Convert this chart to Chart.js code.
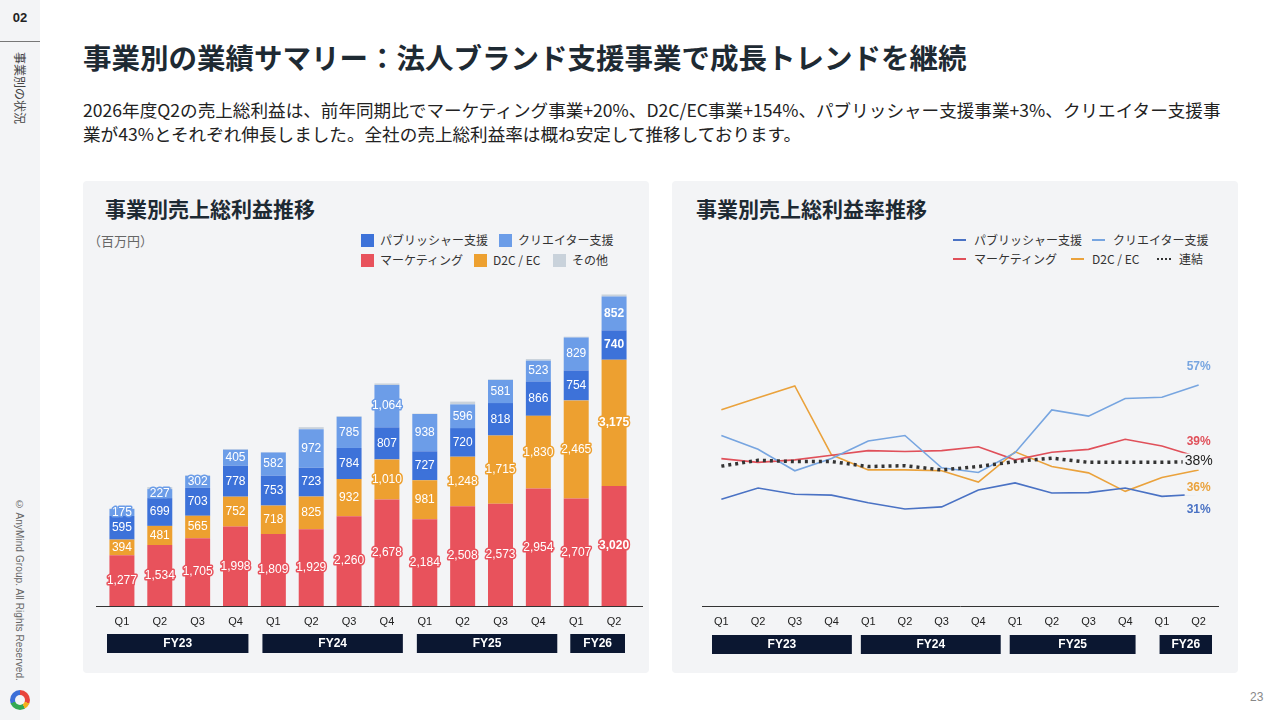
<!DOCTYPE html>
<html lang="ja">
<head>
<meta charset="utf-8">
<script src="https://cdn.jsdelivr.net/npm/chart.js@4.4.1/dist/chart.umd.min.js"></script>
<style>
  body { margin:0; width:1280px; height:720px; position:relative; background:#fff; font-family:"Noto Sans CJK JP","Noto Sans",sans-serif; color:#1f2a33; overflow:hidden; }
  .side { position:absolute; left:0; top:0; width:40px; height:720px; background:#f3f4f6; }
  .side .num { position:absolute; left:0; top:10px; width:40px; text-align:center; font:bold 13px "Liberation Sans",sans-serif; color:#222; }
  .side .rule { position:absolute; left:0; top:41px; width:40px; height:1px; background:#777; }
  .side .sec { position:absolute; left:12px; top:52px; writing-mode:vertical-rl; text-orientation:sideways; font-size:12px; color:#444; }
  .side .copy { position:absolute; left:14px; top:499px; writing-mode:vertical-rl; font:10px "Liberation Sans",sans-serif; color:#666; letter-spacing:0.1px; }
  .logo { position:absolute; left:10px; top:690px; width:20px; height:20px; border-radius:50%;
          background:conic-gradient(#e8453c 0 110deg,#f2b01e 110deg 150deg,#34a853 150deg 250deg,#3b6fd8 250deg 360deg); }
  .logo:after { content:""; position:absolute; left:5px; top:5px; width:10px; height:10px; border-radius:50%; background:#f3f4f6; }
  h1 { position:absolute; left:83px; top:38px; margin:0; font-size:28.5px; font-weight:bold; color:#1e2a33; white-space:nowrap; line-height:38px; }
  .lead { position:absolute; left:83px; top:98px; font-size:17.6px; line-height:24px; color:#222; white-space:nowrap; }
  .panel { position:absolute; top:181px; width:566px; height:492px; background:#f3f4f6; border-radius:4px; }
  .ptitle { position:absolute; top:194px; font-size:21px; font-weight:bold; color:#1e2a33; line-height:28px; }
  .unit { position:absolute; left:88px; top:231px; font-size:13px; color:#666; }
  .lg { position:absolute; font-size:12px; color:#333; white-space:nowrap; line-height:16px; }
  .lg span.sw { display:inline-block; width:13px; height:13px; vertical-align:-2px; margin-right:6px; }
  .lg span.ln { display:inline-block; width:13px; height:2px; vertical-align:4px; margin-right:8px; }
  .lg span.dt { display:inline-block; width:14px; border-top:2px dotted #333; vertical-align:4px; margin-right:8px; }
  .page { position:absolute; left:1250px; top:690px; font:12px "Liberation Sans",sans-serif; color:#888; }
  canvas { position:absolute; }
</style>
</head>
<body>
<div class="side">
  <div class="num">02</div>
  <div class="rule"></div>
  <div class="sec">事業別の状況</div>
  <div class="copy">© AnyMind Group. All Rights Reserved.</div>
  <div class="logo"></div>
</div>

<h1>事業別の業績サマリー：法人ブランド支援事業で成長トレンドを継続</h1>
<div class="lead">2026年度Q2の売上総利益は、前年同期比でマーケティング事業+20%、D2C/EC事業+154%、パブリッシャー支援事業+3%、クリエイター支援事<br>業が43%とそれぞれ伸長しました。全社の売上総利益率は概ね安定して推移しております。</div>

<div class="panel" style="left:83px"></div>
<div class="panel" style="left:672px"></div>
<div class="ptitle" style="left:105px">事業別売上総利益推移</div>
<div class="ptitle" style="left:696px">事業別売上総利益率推移</div>
<div class="unit">（百万円）</div>

<div class="lg" style="left:361px;top:232px"><span class="sw" style="background:#3d72d9"></span>パブリッシャー支援</div>
<div class="lg" style="left:499px;top:232px"><span class="sw" style="background:#6c9de8"></span>クリエイター支援</div>
<div class="lg" style="left:361px;top:252px"><span class="sw" style="background:#e8525c"></span>マーケティング</div>
<div class="lg" style="left:474px;top:252px"><span class="sw" style="background:#eda030"></span>D2C / EC</div>
<div class="lg" style="left:553px;top:252px"><span class="sw" style="background:#c9d2db"></span>その他</div>

<div class="lg" style="left:953px;top:232px"><span class="ln" style="background:#4a72c4"></span>パブリッシャー支援</div>
<div class="lg" style="left:1092px;top:232px"><span class="ln" style="background:#77a5e0"></span>クリエイター支援</div>
<div class="lg" style="left:953px;top:251px"><span class="ln" style="background:#e0505a"></span>マーケティング</div>
<div class="lg" style="left:1071px;top:251px"><span class="ln" style="background:#eaa23c"></span>D2C / EC</div>
<div class="lg" style="left:1157px;top:251px"><span class="dt"></span>連結</div>

<div class="page">23</div>

<canvas id="barChart" style="left:83px;top:270px;width:566px;height:403px" width="566" height="403"></canvas>
<canvas id="lineChart" style="left:672px;top:262px;width:566px;height:411px" width="566" height="411"></canvas>

<script>
// quarters on the x axis
var quarters = ['Q1','Q2','Q3','Q4','Q1','Q2','Q3','Q4','Q1','Q2','Q3','Q4','Q1','Q2'];
var fyLabels = ['FY23','FY24','FY25','FY26'];
var fyFirst = [0,4,8,12];
var fyLast = [3,7,11,13];

// gross profit by business (million yen)
var gpMarketing = [1277,1534,1705,1998,1809,1929,2260,2678,2184,2508,2573,2954,2707,3020];
var gpD2C       = [394,481,565,752,718,825,932,1010,981,1248,1715,1830,2465,3175];
var gpPublisher = [595,699,703,778,753,723,784,807,727,720,818,866,754,740];
var gpCreator   = [175,227,302,405,582,972,785,1064,938,596,581,523,829,852];
var gpOther     = [15,50,15,15,10,50,15,40,10,70,15,40,20,50];

// gross margin by business (%)
var gmPublisher = [29.4,32.1,30.6,30.4,28.6,27.1,27.6,31.6,33.3,30.9,31.0,32.1,30.1,30.6];
var gmCreator   = [44.6,41.3,36.2,39.1,43.3,44.6,36.9,35.8,40.5,50.7,49.2,53.4,53.7,56.6];
var gmMarketing = [39.1,38.2,38.8,39.9,41.0,40.8,41.0,41.9,38.8,40.6,41.3,43.7,42.1,39.4];
var gmD2C       = [50.7,53.6,56.4,40.0,36.4,36.4,36.2,33.5,40.7,37.2,35.7,31.3,34.6,36.4];
var gmTotal     = [37.3,38.7,38.4,38.4,37.2,37.4,36.4,37.2,38.4,39.2,38.2,38.2,38.2,38.4];

var panelBg = '#f3f4f6';
var numFont = '"Liberation Sans", Arial, sans-serif';

// axis line + fiscal year boxes under the quarter ticks
var fyAxis = {
  id:'fyAxis',
  afterDraw:function(chart, args, opts){
    var ctx = chart.ctx, ca = chart.chartArea, xs = chart.scales.x;
    var half = (xs.getPixelForValue(1) - xs.getPixelForValue(0)) / 2;
    ctx.save();
    ctx.strokeStyle = '#333';
    ctx.lineWidth = 1;
    ctx.beginPath();
    ctx.moveTo(ca.left - opts.extL, ca.bottom + 0.5);
    ctx.lineTo(ca.right + opts.extR, ca.bottom + 0.5);
    ctx.stroke();
    for (var i = 0; i < fyLabels.length; i++) {
      var x1 = xs.getPixelForValue(fyFirst[i]) - half + opts.insetL[i];
      var x2 = xs.getPixelForValue(fyLast[i]) + half - opts.insetR[i];
      var y = ca.bottom + opts.top;
      ctx.fillStyle = '#0b1731';
      ctx.fillRect(x1, y, x2 - x1, 19);
      ctx.fillStyle = '#fff';
      ctx.font = 'bold 12px ' + numFont;
      ctx.textAlign = 'center';
      ctx.textBaseline = 'middle';
      ctx.fillText(fyLabels[i], (x1 + x2) / 2, y + 10);
    }
    ctx.restore();
  }
};

// value labels inside stacked bars
var barLabels = {
  id:'barLabels',
  afterDatasetsDraw:function(chart){
    var ctx = chart.ctx;
    ctx.save();
    ctx.textAlign = 'center';
    ctx.textBaseline = 'middle';
    ctx.lineJoin = 'round';
    chart.data.datasets.forEach(function(ds, di){
      if (ds.noLabel) return;
      chart.getDatasetMeta(di).data.forEach(function(el, i){
        var txt = ds.data[i].toLocaleString('en-US');
        var y = (el.y + el.base) / 2;
        ctx.font = (i == ds.data.length - 1 ? 'bold ' : '') + '12px ' + numFont;
        ctx.lineWidth = 3;
        ctx.strokeStyle = ds.backgroundColor;
        ctx.strokeText(txt, el.x, y);
        ctx.fillStyle = '#fff';
        ctx.fillText(txt, el.x, y);
      });
    });
    ctx.restore();
  }
};

var xScale = function(){
  return {
    offset:true,
    grid:{display:false},
    border:{display:false},
    ticks:{color:'#222', font:{family:numFont, size:11}, padding:1, maxRotation:0, autoSkip:false},
    afterFit:function(s){ s.height = 50; }
  };
};

new Chart(document.getElementById('barChart'), {
  type:'bar',
  data:{
    labels:quarters,
    datasets:[
      {label:'マーケティング', data:gpMarketing, backgroundColor:'#e8525c'},
      {label:'D2C / EC', data:gpD2C, backgroundColor:'#eda030'},
      {label:'パブリッシャー支援', data:gpPublisher, backgroundColor:'#3d72d9'},
      {label:'クリエイター支援', data:gpCreator, backgroundColor:'#6c9de8'},
      {label:'その他', data:gpOther, backgroundColor:'#c9d2db', noLabel:true}
    ]
  },
  options:{
    responsive:false,
    animation:false,
    layout:{padding:{left:20, right:16, top:18, bottom:17}},
    datasets:{bar:{categoryPercentage:0.66, barPercentage:1, borderWidth:0}},
    plugins:{legend:{display:false}, tooltip:{enabled:false},
      fyAxis:{extL:7, extR:10, top:28, insetL:[4,8,11,13], insetR:[6,3,0,8]}},
    scales:{
      x:Object.assign(xScale(), {stacked:true}),
      y:{stacked:true, display:false, min:0, max:8000}
    }
  },
  plugins:[barLabels, fyAxis]
});

// end-of-line labels for the margin chart
var lineLabels = {
  id:'lineLabels',
  afterDatasetsDraw:function(chart){
    var ctx = chart.ctx;
    ctx.save();
    ctx.textAlign = 'center';
    ctx.textBaseline = 'middle';
    chart.data.datasets.forEach(function(ds, di){
      var meta = chart.getDatasetMeta(di);
      var el = meta.data[meta.data.length - 1];
      var txt = Math.round(ds.data[ds.data.length - 1]) + '%';
      var y = el.y + ds.labelDy;
      ctx.font = ds.labelFont;
      var w = ctx.measureText(txt).width;
      ctx.fillStyle = panelBg;
      ctx.fillRect(el.x - w / 2 - 2, y - 8, w + 4, 16);
      ctx.fillStyle = ds.labelColor;
      ctx.fillText(txt, el.x, y);
    });
    ctx.restore();
  }
};

new Chart(document.getElementById('lineChart'), {
  type:'line',
  data:{
    labels:quarters,
    datasets:[
      {label:'連結', data:gmTotal, borderColor:'#333', borderWidth:3.5, borderDash:[3,4], order:0,
       labelDy:0, labelColor:'#222', labelFont:'14px ' + numFont},
      {label:'パブリッシャー支援', data:gmPublisher, borderColor:'#4a72c4', order:1,
       labelDy:15, labelColor:'#4a72c4', labelFont:'bold 12px ' + numFont},
      {label:'クリエイター支援', data:gmCreator, borderColor:'#77a5e0', order:2,
       labelDy:-18, labelColor:'#77a5e0', labelFont:'bold 12px ' + numFont},
      {label:'マーケティング', data:gmMarketing, borderColor:'#e0505a', order:3,
       labelDy:-16, labelColor:'#e0505a', labelFont:'bold 12px ' + numFont},
      {label:'D2C / EC', data:gmD2C, borderColor:'#eaa23c', order:4,
       labelDy:18, labelColor:'#eaa23c', labelFont:'bold 12px ' + numFont}
    ]
  },
  options:{
    responsive:false,
    animation:false,
    layout:{padding:{left:31, right:21, top:8, bottom:17}},
    elements:{line:{borderWidth:1.6, tension:0}, point:{radius:0}},
    plugins:{legend:{display:false}, tooltip:{enabled:false},
      fyAxis:{extL:1, extR:2, top:29, insetL:[9,11,13,16], insetR:[-2,-4,8,5]}},
    scales:{
      x:xScale(),
      y:{display:false, min:4, max:84}
    }
  },
  plugins:[lineLabels, fyAxis]
});
</script>
</body>
</html>
